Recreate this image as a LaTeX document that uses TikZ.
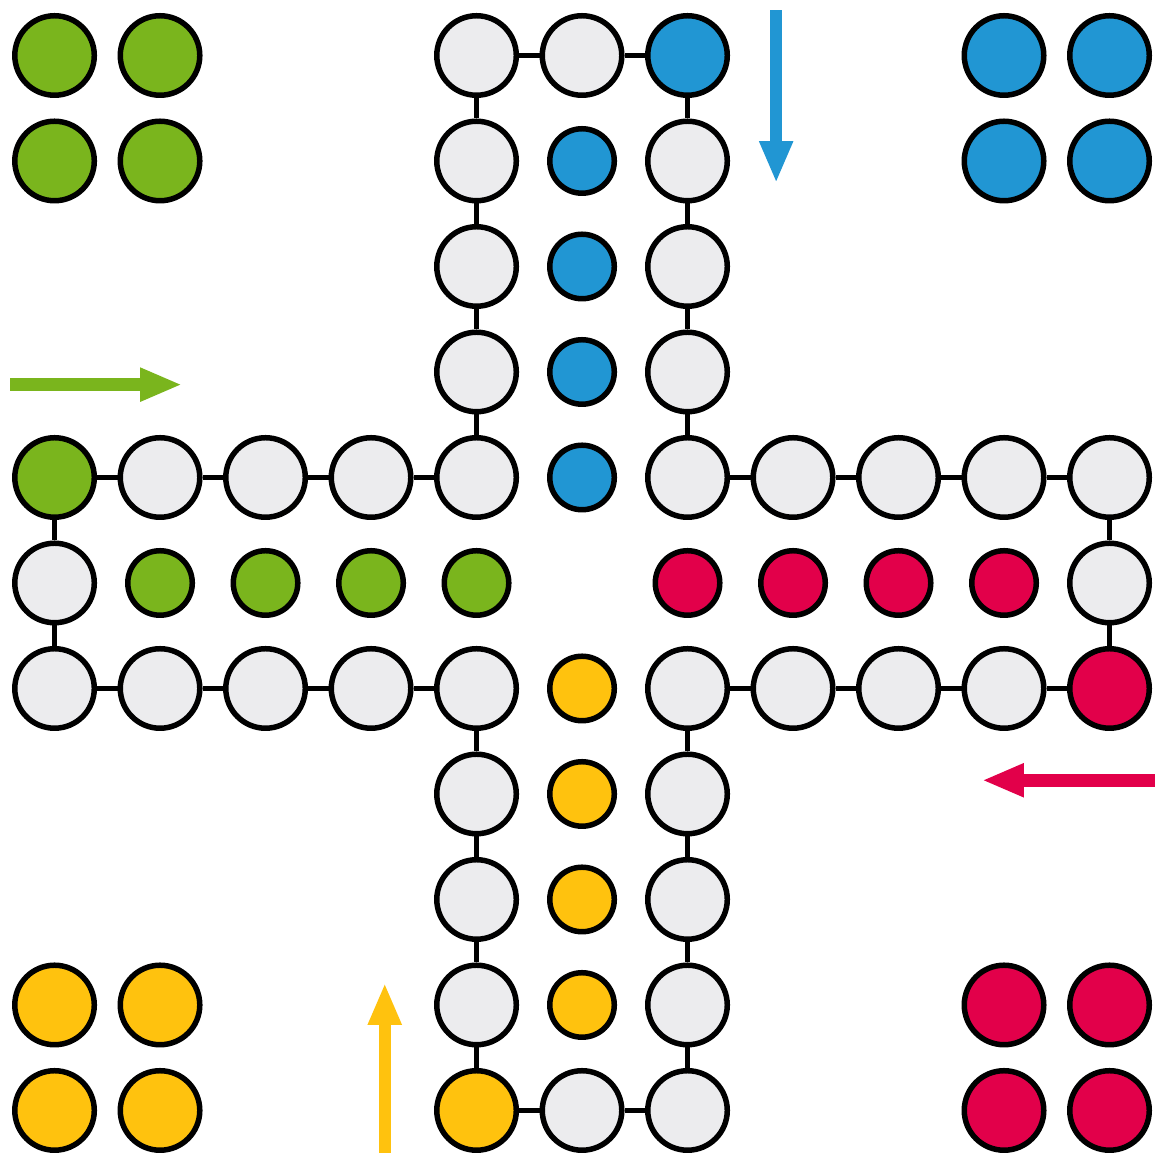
\documentclass[tikz,border=0pt]{standalone}
\usetikzlibrary{arrows.meta}

\definecolor{ludogreen}{HTML}{7AB51D}
\definecolor{ludoblue}{HTML}{2196D3}
\definecolor{ludored}{HTML}{E2004A}
\definecolor{ludoyellow}{HTML}{FFC20E}
\definecolor{fieldgray}{HTML}{ECECEE}

\begin{document}
\begin{tikzpicture}[
    x=2.11cm, y=-2.11cm,
    % Styles
    field/.style={draw=black, circle, line width=0.11cm, minimum size=1.59cm, inner sep=0pt, fill=fieldgray},
    goal/.style={draw=black, circle, line width=0.11cm, minimum size=1.29cm, inner sep=0pt},
    link/.style={draw=black, line width=0.1cm},
    entry/.style={line width=0.25cm, -{Triangle[length=0.84cm, width=0.62cm]}}
    ]

    \useasboundingbox (-0.517,-0.526) rectangle (10.488,10.403);

    % 1. Track fields (gray)
    \foreach \r in {1,...,4,6,7,8,9,10} {
        \node (f-6-\r) [field] at (6,\r) {};
    }
    \foreach \r in {0,...,4,6,7,8,9} {
        \node (f-4-\r) [field] at (4,\r) {};
    }
    \foreach \c in {1,2,3,7,8,9,10} {
        \node (f-\c-4) [field] at (\c,4) {};
    }
    \foreach \c in {0,1,2,3,7,8,9} {
        \node (f-\c-6) [field] at (\c,6) {};
    }
    \node (f-5-0) [field] at (5,0) {};
    \node (f-5-10) [field] at (5,10) {};
    \node (f-0-5) [field] at (0,5) {};
    \node (f-10-5) [field] at (10,5) {};

    % 2. Start fields
    \node (f-6-0) [field, fill=ludoblue] at (6,0) {};
    \node (f-0-4) [field, fill=ludogreen] at (0,4) {};
    \node (f-10-6) [field, fill=ludored] at (10,6) {};
    \node (f-4-10) [field, fill=ludoyellow] at (4,10) {};

    % 3. Goal lanes
    \foreach \i in {1,...,4} {
        \node (g-blue-\i) [goal, fill=ludoblue] at (5,\i) {};
        \node (g-green-\i) [goal, fill=ludogreen] at (\i,5) {};
        \node (g-red-\i) [goal, fill=ludored] at (10-\i,5) {};
        \node (g-yellow-\i) [goal, fill=ludoyellow] at (5,10-\i) {};
    }

    % 4. Home fields in the corners
    \foreach \a in {0,1} {
        \foreach \b in {0,1} {
            \node (h-green-\a\b) [field, fill=ludogreen] at (\a,\b) {};
            \node (h-blue-\a\b) [field, fill=ludoblue] at (9+\a,\b) {};
            \node (h-yellow-\a\b) [field, fill=ludoyellow] at (\a,9+\b) {};
            \node (h-red-\a\b) [field, fill=ludored] at (9+\a,9+\b) {};
        }
    }

    % Connections along the track
    \foreach \r [evaluate=\r as \s using int(\r+1)] in {0,...,3,6,7,8,9} {
        \draw[link] (f-4-\r) -- (f-4-\s);
        \draw[link] (f-6-\r) -- (f-6-\s);
        \draw[link] (f-\r-4) -- (f-\s-4);
        \draw[link] (f-\r-6) -- (f-\s-6);
    }
    \draw[link] (f-4-0) -- (f-5-0) -- (f-6-0);
    \draw[link] (f-4-10) -- (f-5-10) -- (f-6-10);
    \draw[link] (f-0-4) -- (f-0-5) -- (f-0-6);
    \draw[link] (f-10-4) -- (f-10-5) -- (f-10-6);

    % Entry arrows
    \coordinate (blue-in) at (6.84,-0.43);
    \coordinate (blue-tip) at (6.84,1.21);
    \coordinate (green-in) at (-0.42,3.12);
    \coordinate (green-tip) at (1.21,3.12);
    \coordinate (red-in) at (10.43,6.87);
    \coordinate (red-tip) at (8.79,6.87);
    \coordinate (yellow-in) at (3.13,10.43);
    \coordinate (yellow-tip) at (3.13,8.79);
    \draw[entry, ludoblue] (blue-in) -- (blue-tip);
    \draw[entry, ludogreen] (green-in) -- (green-tip);
    \draw[entry, ludored] (red-in) -- (red-tip);
    \draw[entry, ludoyellow] (yellow-in) -- (yellow-tip);
\end{tikzpicture}
\end{document}
